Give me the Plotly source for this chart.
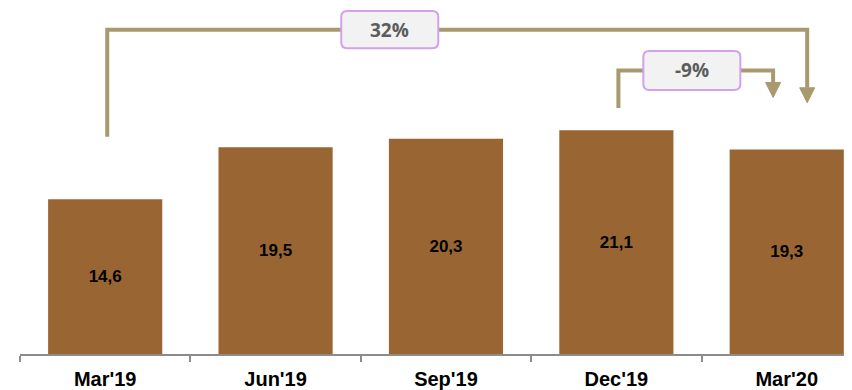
import plotly.graph_objects as go

categories = ["Mar'19", "Jun'19", "Sep'19", "Dec'19", "Mar'20"]
values = [14.6, 19.5, 20.3, 21.1, 19.3]
value_labels = ["14,6", "19,5", "20,3", "21,1", "19,3"]
change_labels = ["32%", "-9%"]

BAR = "#996633"
LINE = "#a89a6e"
BOX_FILL = "#f2f2f2"
BOX_EDGE = "#d4a0ec"

fig = go.Figure()
fig.add_trace(go.Bar(
    x=list(range(len(categories))), y=values, width=0.67,
    marker=dict(color=BAR, line=dict(width=0)),
    text=value_labels, textposition="inside", insidetextanchor="middle",
    textfont=dict(family="Liberation Sans, Arial", size=17, color="black", weight="bold"),
    hoverinfo="skip", cliponaxis=False,
))

# pixel -> data scale helpers (approx 170.4 px per category, 10.6 px per unit)
PX_X = 1 / 170.4
PX_Y = 1 / 10.6

shapes = []

def bracket(x0, y0, ytop, x1, ytip):
    hw = 7.5 * PX_X
    hh = 15 * PX_Y
    shapes.append(dict(type="path", xref="x", yref="y",
                       path=f"M {x0},{y0} L {x0},{ytop} L {x1},{ytop} L {x1},{ytip + hh}",
                       line=dict(color=LINE, width=4), layer="above"))
    shapes.append(dict(type="path", xref="x", yref="y",
                       path=f"M {x1 - hw},{ytip + hh} L {x1 + hw},{ytip + hh} L {x1},{ytip} Z",
                       fillcolor=LINE, line=dict(color=LINE, width=1), layer="above"))

def rbox(xc, yc, wpx, hpx, r=6):
    w = wpx * PX_X / 2
    h = hpx * PX_Y / 2
    rx = r * PX_X
    ry = r * PX_Y
    x0, x1, y0, y1 = xc - w, xc + w, yc - h, yc + h
    path = (f"M {x0 + rx},{y0} L {x1 - rx},{y0} Q {x1},{y0} {x1},{y0 + ry} "
            f"L {x1},{y1 - ry} Q {x1},{y1} {x1 - rx},{y1} L {x0 + rx},{y1} "
            f"Q {x0},{y1} {x0},{y1 - ry} L {x0},{y0 + ry} Q {x0},{y0} {x0 + rx},{y0} Z")
    shapes.append(dict(type="path", xref="x", yref="y", path=path,
                       fillcolor=BOX_FILL, line=dict(color=BOX_EDGE, width=2), layer="above"))

# big bracket: Mar'19 -> Mar'20
bracket(0.012, 20.5, 30.6, 4.12, 23.7)
# small bracket: Dec'19 -> Mar'20
bracket(3.012, 23.2, 26.75, 3.92, 24.2)

rbox(1.67, 30.6, 97, 37)
rbox(3.443, 26.75, 97, 39)

annotations = [
    dict(x=1.67, y=30.6, xref="x", yref="y", text=change_labels[0], showarrow=False,
         font=dict(family="Open Sans, Liberation Sans", size=19, color="#5c5c5c", weight="bold")),
    dict(x=3.443, y=26.75, xref="x", yref="y", text=change_labels[1], showarrow=False,
         font=dict(family="Open Sans, Liberation Sans", size=19, color="#5c5c5c", weight="bold")),
]

# page body has an 8px margin, so the figure is offset by 8px
fig.update_layout(
    width=844, height=382,
    margin=dict(l=12, r=0, t=0, b=36),
    paper_bgcolor="white", plot_bgcolor="white",
    showlegend=False,
    shapes=shapes, annotations=annotations,
    xaxis=dict(
        range=[-0.5, 4.383], tickmode="array",
        tickvals=list(range(len(categories))), ticktext=categories,
        showgrid=False, zeroline=False,
        showline=True, linecolor="#8c8c8c", linewidth=2,
        ticks="", ticklabelstandoff=6,
        tickfont=dict(family="Liberation Sans, Arial", size=20, color="black", weight="bold"),
        minor=dict(tickvals=[-0.5, 0.5, 1.5, 2.5, 3.5, 4.5], ticks="outside",
                   ticklen=6, tickcolor="#8c8c8c", tickwidth=2),
        fixedrange=True,
    ),
    yaxis=dict(range=[0, 32.64], visible=False, fixedrange=True),
)

fig.write_html("out.html")
